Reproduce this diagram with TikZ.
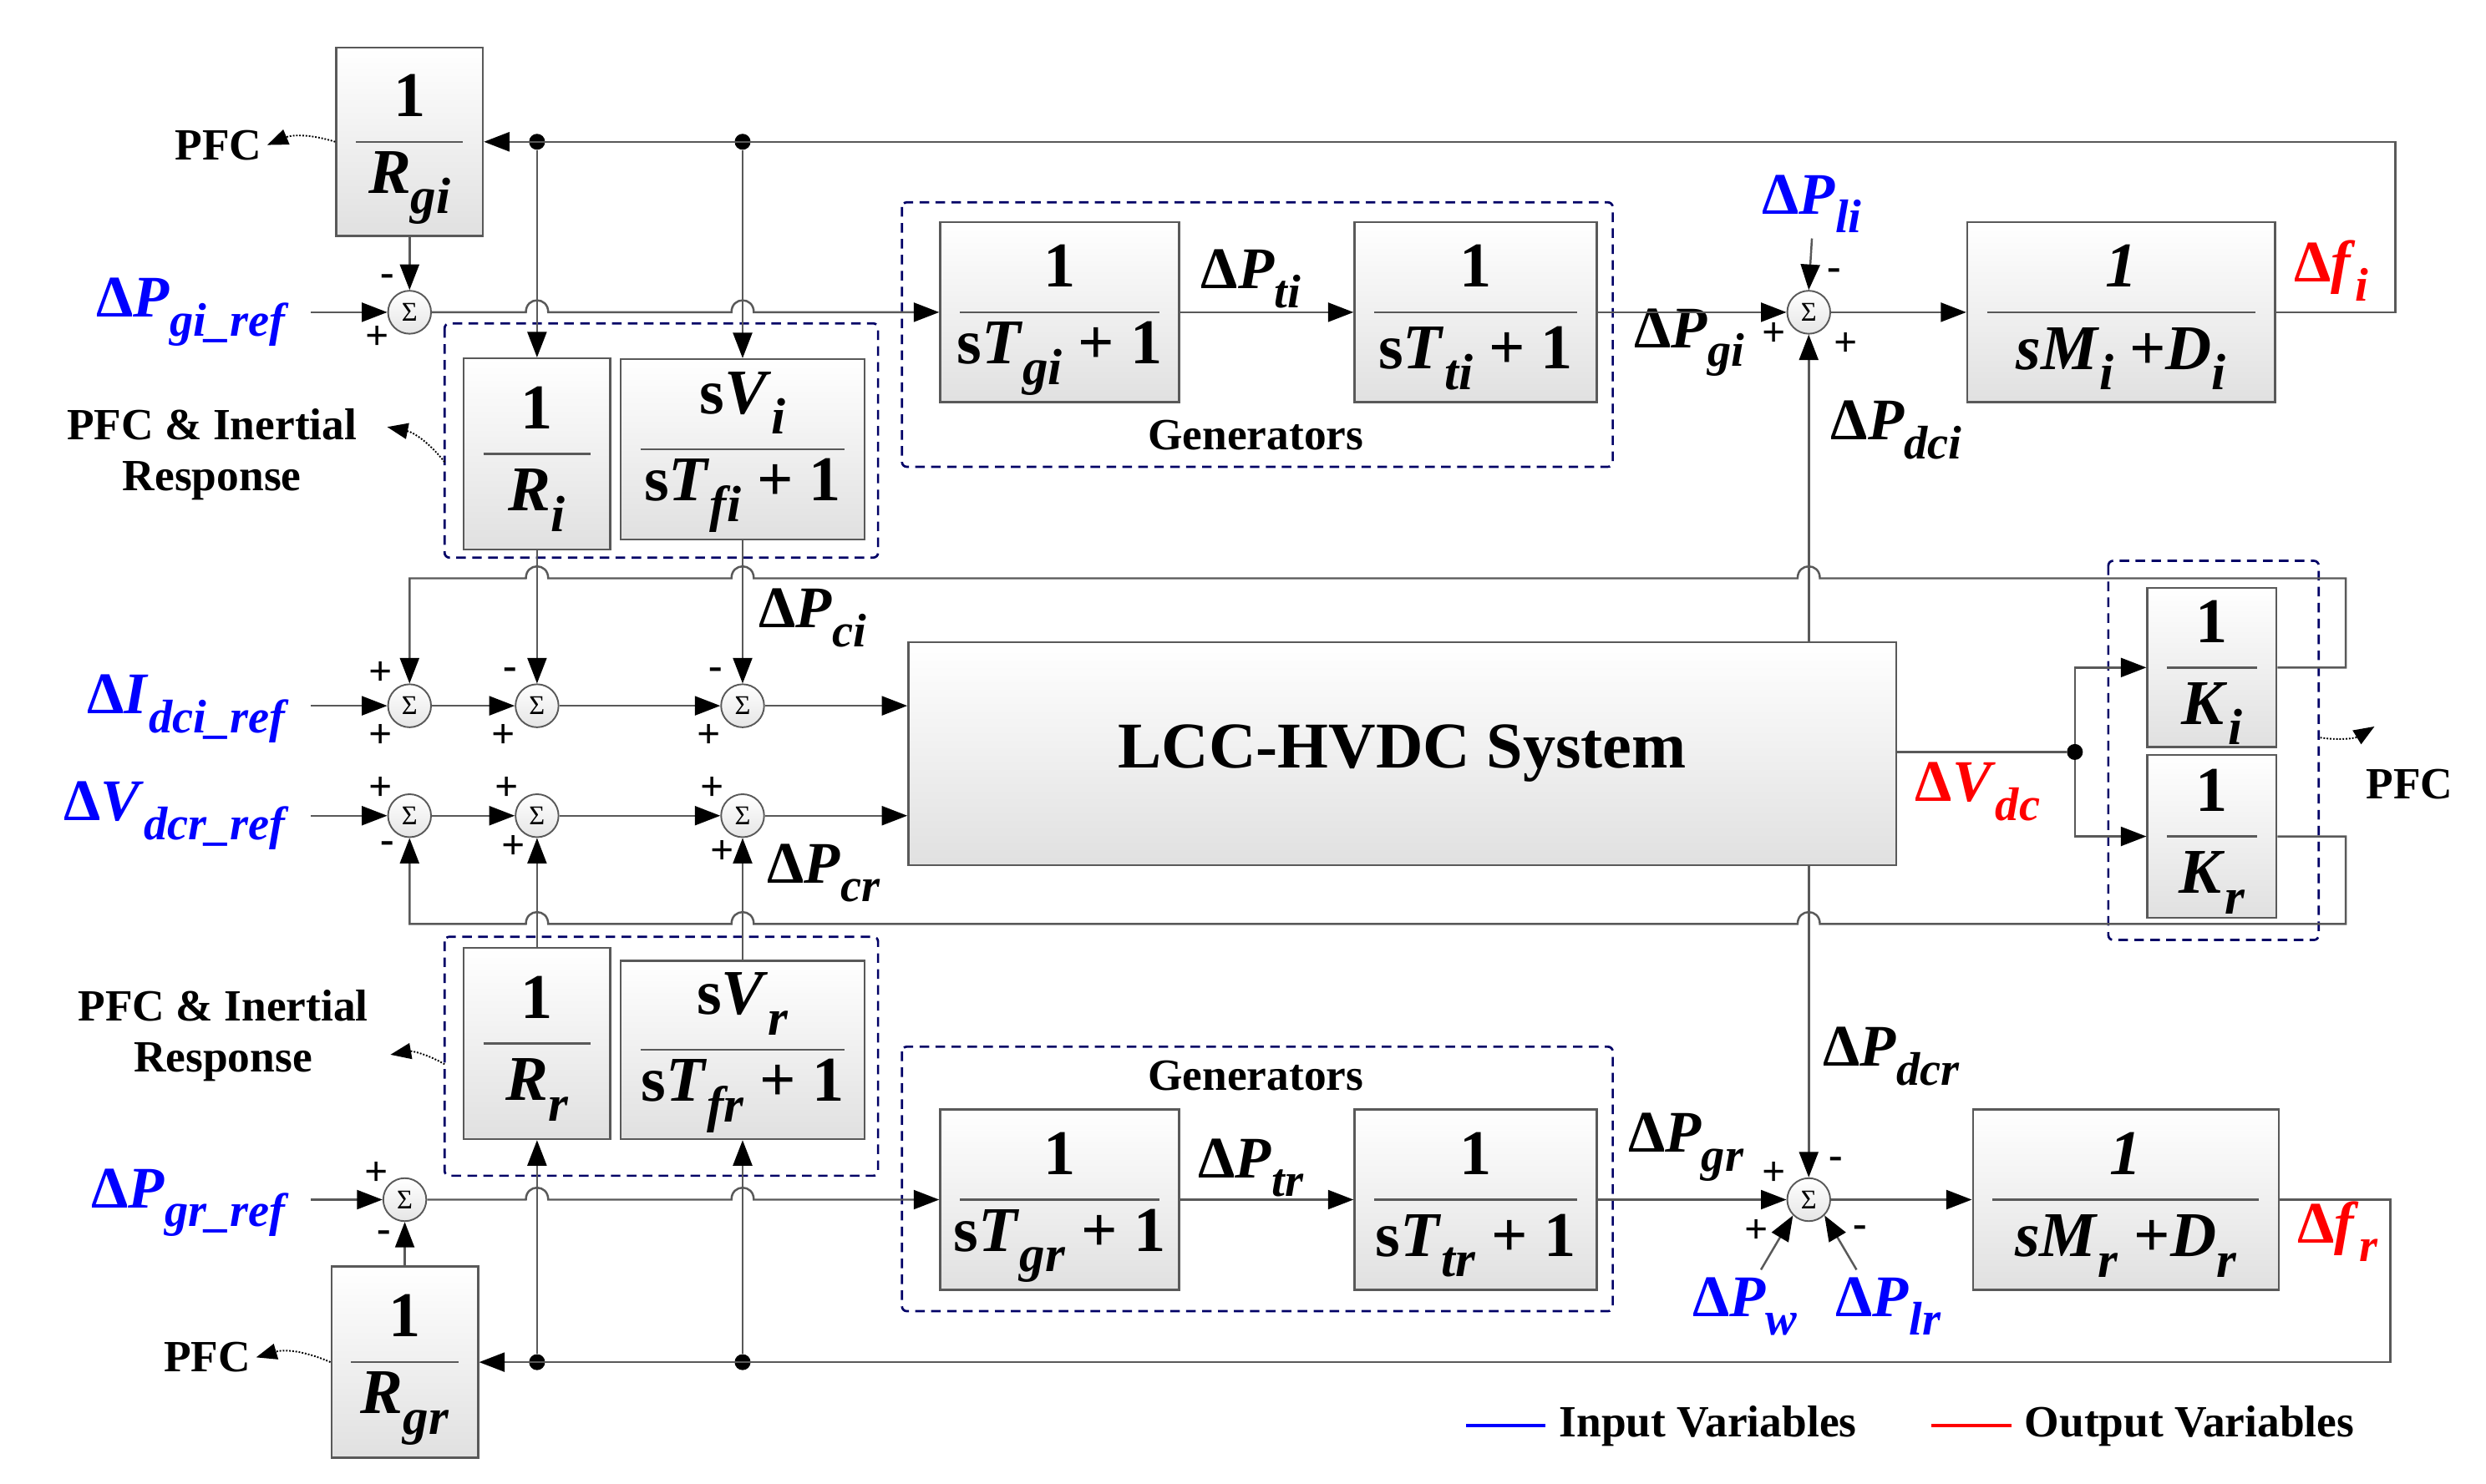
\documentclass[tikz,border=0pt]{standalone}
\usepackage{fontspec}
\setmainfont{Liberation Serif}
\usetikzlibrary{arrows.meta,calc}
\newcommand\dsub[1]{\raisebox{-0.32em}{\scalebox{0.8}{\textit{#1}}}}
\newcommand\hp[2]{-- ({#1-7},#2) .. controls ({#1-7},{#2-10}) and ({#1+7},{#2-10}) .. ({#1+7},#2)}
\newcommand\hpl[2]{-- ({#1+7},#2) .. controls ({#1+7},{#2-10}) and ({#1-7},{#2-10}) .. ({#1-7},#2)}
\tikzset{
 ln/.style={draw=black!65,line width=1.3pt},
 ar/.style={ln,-{Triangle[length=16pt,width=12pt,color=black]}},
 blk/.style={draw=black!65,line width=1.3pt,top color=white,bottom color=black!12,inner sep=0pt},
 bar/.style={draw=black!65,line width=1.3pt},
 big/.style={font=\fontsize{40}{42}\selectfont\bfseries},
 lab/.style={font=\fontsize{37}{39}\selectfont\bfseries},
 sm/.style={font=\fontsize{28}{32}\selectfont\bfseries,align=center},
 sgn/.style={font=\fontsize{26}{26}\selectfont\bfseries,inner sep=0pt},
 sum/.style={circle,draw=black!65,line width=1pt,top color=white,bottom color=black!10,minimum size=27pt,inner sep=0pt,font=\fontsize{17}{17}\selectfont},
 dbox/.style={draw=blue!40!black,dash pattern=on 6pt off 4pt,line width=1.4pt,rounded corners=3pt},
 dar/.style={densely dotted,line width=1pt,-{Triangle[length=13pt,width=10pt]}},
 dot/.style={circle,fill=black,inner sep=0pt,minimum size=10pt},
}
\newcommand\blk[7]{\node[blk,minimum width=#4pt,minimum height=#5pt] (#1) at (#2,#3) {};
 \draw[bar] ([xshift=13pt]#1.west) -- ([xshift=-13pt]#1.east);
 \node[big] at ($(#1.center)+(0,-29)$) {#6};
 \node[big] at ($(#1.center)+(0,29)$) {#7};}
\begin{document}
\begin{tikzpicture}[x=1pt,y=-1pt]
\useasboundingbox (0,0) rectangle (1560,931);
% dashed boxes
\draw[dbox] (566,127) rectangle (1012,293);
\draw[dbox] (279,203) rectangle (551,350);
\draw[dbox] (279,588) rectangle (551,738);
\draw[dbox] (566,657) rectangle (1012,823);
\draw[dbox] (1323,352) rectangle (1455,590);
% blocks
\blk{Rgi}{257}{89}{92}{118}{1}{\textit{R}\dsub{gi}}
\blk{Ri}{337}{285}{92}{120}{1}{\textit{R}\dsub{i}}
\blk{Vi}{466}{282}{153}{113}{s\textit{V}\dsub{i}}{s\textit{T}\dsub{fi} + 1}
\blk{Tgi}{665}{196}{150}{113}{1}{s\textit{T}\dsub{gi} + 1}
\blk{Tti}{926}{196}{152}{113}{1}{s\textit{T}\dsub{ti} + 1}
\blk{fi}{1331}{196}{193}{113}{\textit{1}}{\textit{sM}\dsub{i} +\textit{D}\dsub{i}}
\blk{Ki}{1388}{419}{81}{100}{1}{\textit{K}\dsub{i}}
\blk{Kr}{1388}{525}{81}{102}{1}{\textit{K}\dsub{r}}
\blk{Rr}{337}{655}{92}{120}{1}{\textit{R}\dsub{r}}
\blk{Vr}{466}{659}{153}{112}{s\textit{V}\dsub{r}}{s\textit{T}\dsub{fr} + 1}
\blk{Tgr}{665}{753}{150}{113}{1}{s\textit{T}\dsub{gr} + 1}
\blk{Ttr}{926}{753}{152}{113}{1}{s\textit{T}\dsub{tr} + 1}
\blk{fr}{1334}{753}{192}{113}{\textit{1}}{\textit{sM}\dsub{r} +\textit{D}\dsub{r}}
\blk{Rgr}{254}{855}{92}{120}{1}{\textit{R}\dsub{gr}}
\node[blk,minimum width=620pt,minimum height=140pt,font=\fontsize{41}{43}\selectfont\bfseries] (LCC) at (880,473) {LCC-HVDC System};
% sums
\node[sum] (sgi) at (257,196) {Σ};
\node[sum] (s1) at (257,443) {Σ};
\node[sum] (s2) at (337,443) {Σ};
\node[sum] (s3) at (466,443) {Σ};
\node[sum] (r1) at (257,512) {Σ};
\node[sum] (r2) at (337,512) {Σ};
\node[sum] (r3) at (466,512) {Σ};
\node[sum] (sgr) at (254,753) {Σ};
\node[sum] (sfi) at (1135,196) {Σ};
\node[sum] (sfr) at (1135,753) {Σ};
% dots / coordinates
\node[dot] (d1) at (337,89) {}; \node[dot] (d2) at (466,89) {};
\node[dot] (d3) at (337,855) {}; \node[dot] (d4) at (466,855) {};
\node[dot] (dv) at (1302,472) {};
\coordinate (w1) at (1105,797); \coordinate (w2) at (1165,797);
% input labels
\node[lab,blue,anchor=east] (pgiref) at (185,196) {Δ\textit{P}\dsub{gi\_ref}};
\node[lab,blue,anchor=east] (idci) at (185,445) {Δ\textit{I}\dsub{dci\_ref}};
\node[lab,blue,anchor=east] (vdcr) at (185,512) {Δ\textit{V}\dsub{dcr\_ref}};
\node[lab,blue,anchor=east] (pgrref) at (185,755) {Δ\textit{P}\dsub{gr\_ref}};
\node[lab,blue] (pli) at (1137,128) {Δ\textit{P}\dsub{li}};
\node[lab,blue] at (1095,820) {Δ\textit{P}\dsub{w}};
\node[lab,blue] at (1185,820) {Δ\textit{P}\dsub{lr}};
\node[lab,red] at (1463,170) {Δ\textit{f}\dsub{i}};
\node[lab,red] at (1467,773) {Δ\textit{f}\dsub{r}};
\node[lab,red] at (1241,497) {Δ\textit{V}\dsub{dc}};
\node[lab] at (785,175) {Δ\textit{P}\dsub{ti}};
\node[lab] at (1060,215) {Δ\textit{P}\dsub{gi}};
\node[lab] at (1190,270) {Δ\textit{P}\dsub{dci}};
\node[lab] at (510,388) {Δ\textit{P}\dsub{ci}};
\node[lab] at (517,548) {Δ\textit{P}\dsub{cr}};
\node[lab] at (1187,663) {Δ\textit{P}\dsub{dcr}};
\node[lab] at (785,733) {Δ\textit{P}\dsub{tr}};
\node[lab] at (1058,720) {Δ\textit{P}\dsub{gr}};
\node[sm] at (788,273) {Generators};
\node[sm] at (788,675) {Generators};
\node[sm] (pfc1) at (137,91) {PFC};
\node[sm] (pfc2) at (130,852) {PFC};
\node[sm] (pfc3) at (1512,492) {PFC};
\node[sm] (pir1) at (133,285) {PFC \& Inertial\\Response};
\node[sm] (pir2) at (140,650) {PFC \& Inertial\\Response};
% signs
\foreach \p/\s in {{243,176}/-,{237,212}/+,{239,423}/+,{239,462}/+,{320,423}/-,{316,462}/+,{449,423}/-,{445,462}/+,
 {239,495}/+,{243,532}/-,{318,495}/+,{322,532}/+,{447,495}/+,{453,535}/+,{236,737}/+,{241,776}/-,
 {1113,210}/+,{1151,172}/-,{1158,216}/+,{1113,737}/+,{1152,730}/-,{1102,773}/+,{1167,773}/-}
 \node[sgn] at (\p) {\s};
% connectors top
\draw[ar] (fi.east) -- (1503,196) -- (1503,89) -- (Rgi.east);
\draw[ar] (d1) -- (Ri.north);
\draw[ar] (d2) -- (Vi.north);
\draw[ar] (Rgi.south) -- (sgi.north);
\draw[ar,shorten <=10pt] (pgiref.east) -- (sgi.west);
\draw[ar] (sgi.east) \hp{337}{196} \hp{466}{196} -- (Tgi.west);
\draw[ar] (Tgi.east) -- (Tti.west);
\draw[ar] (Tti.east) -- (sfi.west);
\draw[ar] (sfi.east) -- (fi.west);
\draw[ar] (pli.south) -- (sfi.north);
\draw[ar] (sfi |- LCC.north) -- (sfi.south);
% middle
\draw[ar] (Ki.east) -- (1472,419) -- (1472,363) \hpl{1135}{363} \hpl{466}{363} \hpl{337}{363} -- (257,363) -- (s1.north);
\draw[ar] (Ri.south) -- (s2.north);
\draw[ar] (Vi.south) -- (s3.north);
\draw[ar,shorten <=10pt] (idci.east |- s1) -- (s1.west);
\draw[ar] (s1.east) -- (s2.west);
\draw[ar] (s2.east) -- (s3.west);
\draw[ar] (s3.east) -- (LCC.west |- s3);
\draw[ar,shorten <=10pt] (vdcr.east |- r1) -- (r1.west);
\draw[ar] (r1.east) -- (r2.west);
\draw[ar] (r2.east) -- (r3.west);
\draw[ar] (r3.east) -- (LCC.west |- r3);
\draw[ln] (LCC.east |- dv) -- (dv);
\draw[ar] (dv) |- (Ki.west);
\draw[ar] (dv) |- (Kr.west);
\draw[ar] (Kr.east) -- (1472,525) -- (1472,580) \hpl{1135}{580} \hpl{466}{580} \hpl{337}{580} -- (257,580) -- (r1.south);
\draw[ar] (Rr.north) -- (r2.south);
\draw[ar] (Vr.north) -- (r3.south);
% bottom
\draw[ar] (fr.east) -- (1500,753) -- (1500,855) -- (Rgr.east);
\draw[ar] (d3) -- (Rr.south);
\draw[ar] (d4) -- (Vr.south);
\draw[ar] (Rgr.north) -- (sgr.south);
\draw[ar,shorten <=10pt] (pgrref.east |- sgr) -- (sgr.west);
\draw[ar] (sgr.east) \hp{337}{753} \hp{466}{753} -- (Tgr.west);
\draw[ar] (Tgr.east) -- (Ttr.west);
\draw[ar] (Ttr.east) -- (sfr.west);
\draw[ar] (sfr.east) -- (fr.west);
\draw[ar] (sfr |- LCC.south) -- (sfr.north);
\draw[ar] (w1) -- (sfr.south west);
\draw[ar] (w2) -- (sfr.south east);
% dotted arrows
\draw[dar] (Rgi.west) to[bend right=20] (pfc1.east);
\draw[dar] (Rgr.west) to[bend right=20] (pfc2.east);
\draw[dar] (279,290) to[bend right=20] (243,268);
\draw[dar] (279,668) to[bend right=20] (245,662);
\draw[dar] (1456,463) to[bend right=20] (1490,456);
% legend
\draw[blue,line width=2pt] (920,895) -- (970,895);
\node[sm,anchor=west] at (975,895) {Input Variables};
\draw[red,line width=2pt] (1212,895) -- (1262,895);
\node[sm,anchor=west] at (1267,895) {Output Variables};
\end{tikzpicture}
\end{document}
